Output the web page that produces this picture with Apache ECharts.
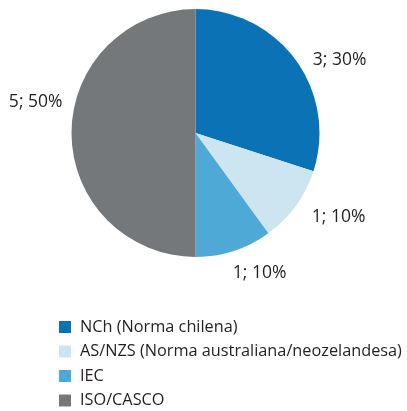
<!DOCTYPE html>
<html>
<head>
<meta charset="utf-8">
<script src="https://cdn.jsdelivr.net/npm/echarts@6/dist/echarts.min.js"></script>
<style>
    html, body { margin: 0; padding: 0; background: #fff; }
    #chart { width: 407px; height: 411px; }
</style>
</head>
<body>
<div id="chart"></div>
<script>
    // datos
    var categories = ['NCh (Norma chilena)', 'AS/NZS (Norma australiana/neozelandesa)', 'IEC', 'ISO/CASCO'];
    var counts = [3, 1, 1, 5];
    var colors = ['#0b72b5', '#cde5f1', '#4fa9d6', '#75787b'];
    // desplazamiento de etiquetas (estilo)
    var labelShift = [[12, 0], [11, 11], [-6, 22], [-4, -31]];

    var total = counts.reduce(function (a, b) { return a + b; }, 0);

    var chart = echarts.init(document.getElementById('chart'));
    var option = {
        animation: false,
        color: colors,
        textStyle: {
            fontFamily: 'Open Sans'
        },
        legend: {
            orient: 'vertical',
            left: 54,
            top: 314,
            height: 100,
            itemWidth: 12,
            itemHeight: 12,
            itemGap: 8.5,
            icon: 'rect',
            selectedMode: false,
            textStyle: {
                fontSize: 16.3,
                color: '#231f20',
                padding: [0, 0, 0, 4]
            },
            data: categories
        },
        series: [
            {
                name: 'Normas',
                type: 'pie',
                center: [195.5, 133],
                radius: 124,
                startAngle: 90,
                clockwise: true,
                avoidLabelOverlap: false,
                label: {
                    show: true,
                    position: 'outside',
                    fontSize: 17.5,
                    color: '#231f20',
                    formatter: function (p) {
                        return p.value + '; ' + Math.round(p.value / total * 100) + '%';
                    }
                },
                labelLine: {
                    show: false,
                    length: 0,
                    length2: 0
                },
                labelLayout: function (p) {
                    var s = labelShift[p.dataIndex];
                    return {dx: s[0], dy: s[1]};
                },
                itemStyle: {
                    borderWidth: 0
                },
                emphasis: {disabled: true},
                data: categories.map(function (c, i) {
                    return {name: c, value: counts[i]};
                })
            }
        ]
    };
    chart.setOption(option);
</script>
</body>
</html>
